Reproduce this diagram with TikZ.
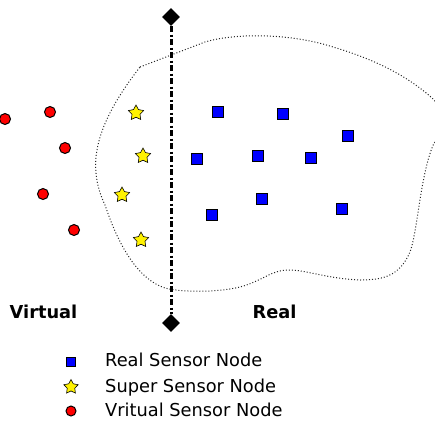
\documentclass[tikz,border=0pt]{standalone}
\usepackage{fontspec}
\setmainfont{DejaVu Sans}
\usetikzlibrary{shapes.geometric}
\tikzset{
  realnode/.style={draw=black, line width=1pt, fill=blue, minimum size=10.5pt, inner sep=0pt, rectangle},
  supernode/.style={draw=black, line width=0.6pt, fill=yellow, star, star points=5, star point ratio=1.9, minimum size=16pt, inner sep=0pt},
  virtnode/.style={draw=black, line width=1pt, fill=red, circle, minimum size=11pt, inner sep=0pt},
  endmark/.style={fill=black, diamond, minimum size=18pt, inner sep=0pt},
  sidelabel/.style={font=\fontsize{17.8}{20}\selectfont\bfseries},
  legtext/.style={font=\fontsize{17.8}{20}\selectfont, anchor=base west, inner sep=0pt},
  divider/.style={line width=3pt, dash pattern=on 6pt off 2.5pt on 2pt off 2.5pt},
  region/.style={line width=1pt, dotted, black!85}
}
\begin{document}
\begin{tikzpicture}[x=1pt,y=-1pt]
\useasboundingbox (0,0) rectangle (435,421);
\begin{scope}
\clip (0,0) rectangle (435,421);
% dotted region
\draw[region] (140,67) -- (205,42)
  .. controls (235,33) and (290,33) .. (333,47)
  .. controls (370,58) and (400,72) .. (425,92)
  .. controls (448,110) and (452,128) .. (434,143)
  .. controls (420,175) and (418,230) .. (410,252)
  .. controls (400,275) and (385,280) .. (360,280)
  .. controls (330,279) and (305,270) .. (290,270)
  .. controls (270,270) and (265,280) .. (240,287)
  .. controls (215,293) and (180,292) .. (165,288)
  .. controls (140,280) and (120,250) .. (105,205)
  .. controls (86,165) and (95,125) .. (140,67);
\end{scope}
% divider
\node[endmark] (top) at (171,17) {};
\node[endmark] (bot) at (171,323) {};
\draw[divider] (top) -- (bot);
% virtual nodes
\node[virtnode] (v1) at (5,119) {};
\node[virtnode] (v2) at (50,112) {};
\node[virtnode] (v3) at (65,148) {};
\node[virtnode] (v4) at (43,194) {};
\node[virtnode] (v5) at (74,230) {};
% super nodes
\node[supernode] (s1) at (136,113) {};
\node[supernode] (s2) at (143,156) {};
\node[supernode] (s3) at (122,195) {};
\node[supernode] (s4) at (141,240) {};
% real nodes
\node[realnode] (r1) at (218,112) {};
\node[realnode] (r2) at (283,114) {};
\node[realnode] (r3) at (348,136) {};
\node[realnode] (r4) at (197,159) {};
\node[realnode] (r5) at (258,156) {};
\node[realnode] (r6) at (311,158) {};
\node[realnode] (r7) at (262,199) {};
\node[realnode] (r8) at (342,209) {};
\node[realnode] (r9) at (212,215) {};
% labels
\node[sidelabel] (lv) at (43.5,311.5) {Virtual};
\node[sidelabel] (lr) at (274.5,311.5) {Real};
% legend
\node[realnode, minimum size=9.5pt] (kr) at (71,362) {};
\node[supernode, minimum size=15pt] (ks) at (71,387) {};
\node[virtnode, minimum size=10pt] (kv) at (71,411) {};
\node[legtext] (tr) at (105,366.7) {Real Sensor Node};
\node[legtext] (ts) at (105,392.2) {Super Sensor Node};
\node[legtext] (tv) at (105,416) {Vritual Sensor Node};
\end{tikzpicture}
\end{document}
